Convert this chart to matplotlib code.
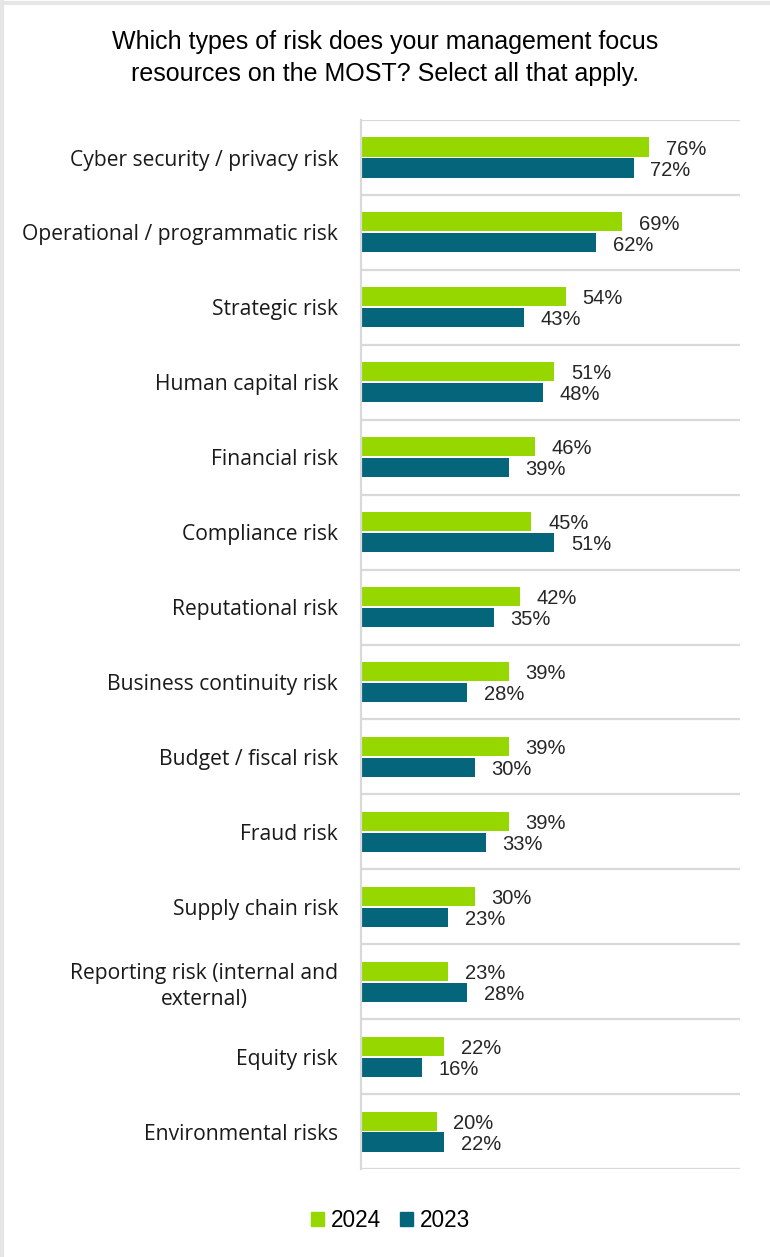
import matplotlib.pyplot as plt
from matplotlib.lines import Line2D
from matplotlib.patches import Patch

categories = [
    "Cyber security / privacy risk",
    "Operational / programmatic risk",
    "Strategic risk",
    "Human capital risk",
    "Financial risk",
    "Compliance risk",
    "Reputational risk",
    "Business continuity risk",
    "Budget / fiscal risk",
    "Fraud risk",
    "Supply chain risk",
    "Reporting risk (internal and\nexternal)",
    "Equity risk",
    "Environmental risks",
]
values_2024 = [76, 69, 54, 51, 46, 45, 42, 39, 39, 39, 30, 23, 22, 20]
values_2023 = [72, 62, 43, 48, 39, 51, 35, 28, 30, 33, 23, 28, 16, 22]

GREEN = "#97d700"
TEAL = "#05657a"
GRID = "#d9d9d9"

plt.rcParams["font.family"] = ["Liberation Sans", "DejaVu Sans"]

fig = plt.figure(figsize=(7.70, 12.57), dpi=100)
ax = fig.add_axes([0.4688, 0.070, 0.492, 0.8345])

y = list(range(len(categories)))
h = 0.255
off = 0.14
bars24 = ax.barh([i - off for i in y], values_2024, height=h, color=GREEN, label="2024")
bars23 = ax.barh([i + off for i in y], values_2023, height=h, color=TEAL, label="2023")

for bars in (bars24, bars23):
    for b in bars:
        w = b.get_width()
        ax.annotate(f"{w:.0f}%", xy=(w, b.get_y() + b.get_height() / 2),
                    xytext=(12, -1.5), textcoords="offset points",
                    ha="left", va="center", fontsize=14.5, color="#262626")

ax.set_xlim(0, 100)
ax.set_ylim(len(categories) - 0.5, -0.5)

# separators between categories
for k in range(len(categories) + 1):
    ax.axhline(k - 0.5, color=GRID, lw=1.6, zorder=0)

ax.set_xticks([])
ax.set_yticks(y)
ax.set_yticklabels(categories, fontsize=15.2, color="#1a1a1a", ha="right",
                   multialignment="center", family=["Open Sans", "DejaVu Sans"])
for lbl in ax.get_yticklabels():
    lbl.set_linespacing(1.3)
ax.tick_params(axis="y", length=0, pad=16.5)
for side in ("top", "right", "bottom"):
    ax.spines[side].set_visible(False)
ax.spines["left"].set_color(GRID)
ax.spines["left"].set_linewidth(1.6)

fig.text(0.5, 0.9535, "Which types of risk does your management focus\nresources on the MOST? Select all that apply.",
         ha="center", va="center", fontsize=18, color="black", linespacing=1.42)

handles = [Patch(color=GREEN), Patch(color=TEAL)]
fig.legend(handles, ["2024", "2023"], loc="center", bbox_to_anchor=(0.507, 0.029),
           ncol=2, frameon=False, fontsize=16.3, handlelength=0.58, handleheight=0.58,
           handletextpad=0.3, columnspacing=0.85)

# thin frame on the left and top edges
fig.add_artist(Line2D([0.002, 0.002], [0, 1], color="#e6e6e6", lw=3, transform=fig.transFigure))
fig.add_artist(Line2D([0, 1], [0.998, 0.998], color="#e6e6e6", lw=3, transform=fig.transFigure))

fig.savefig("out.png", dpi=100, facecolor="white")
